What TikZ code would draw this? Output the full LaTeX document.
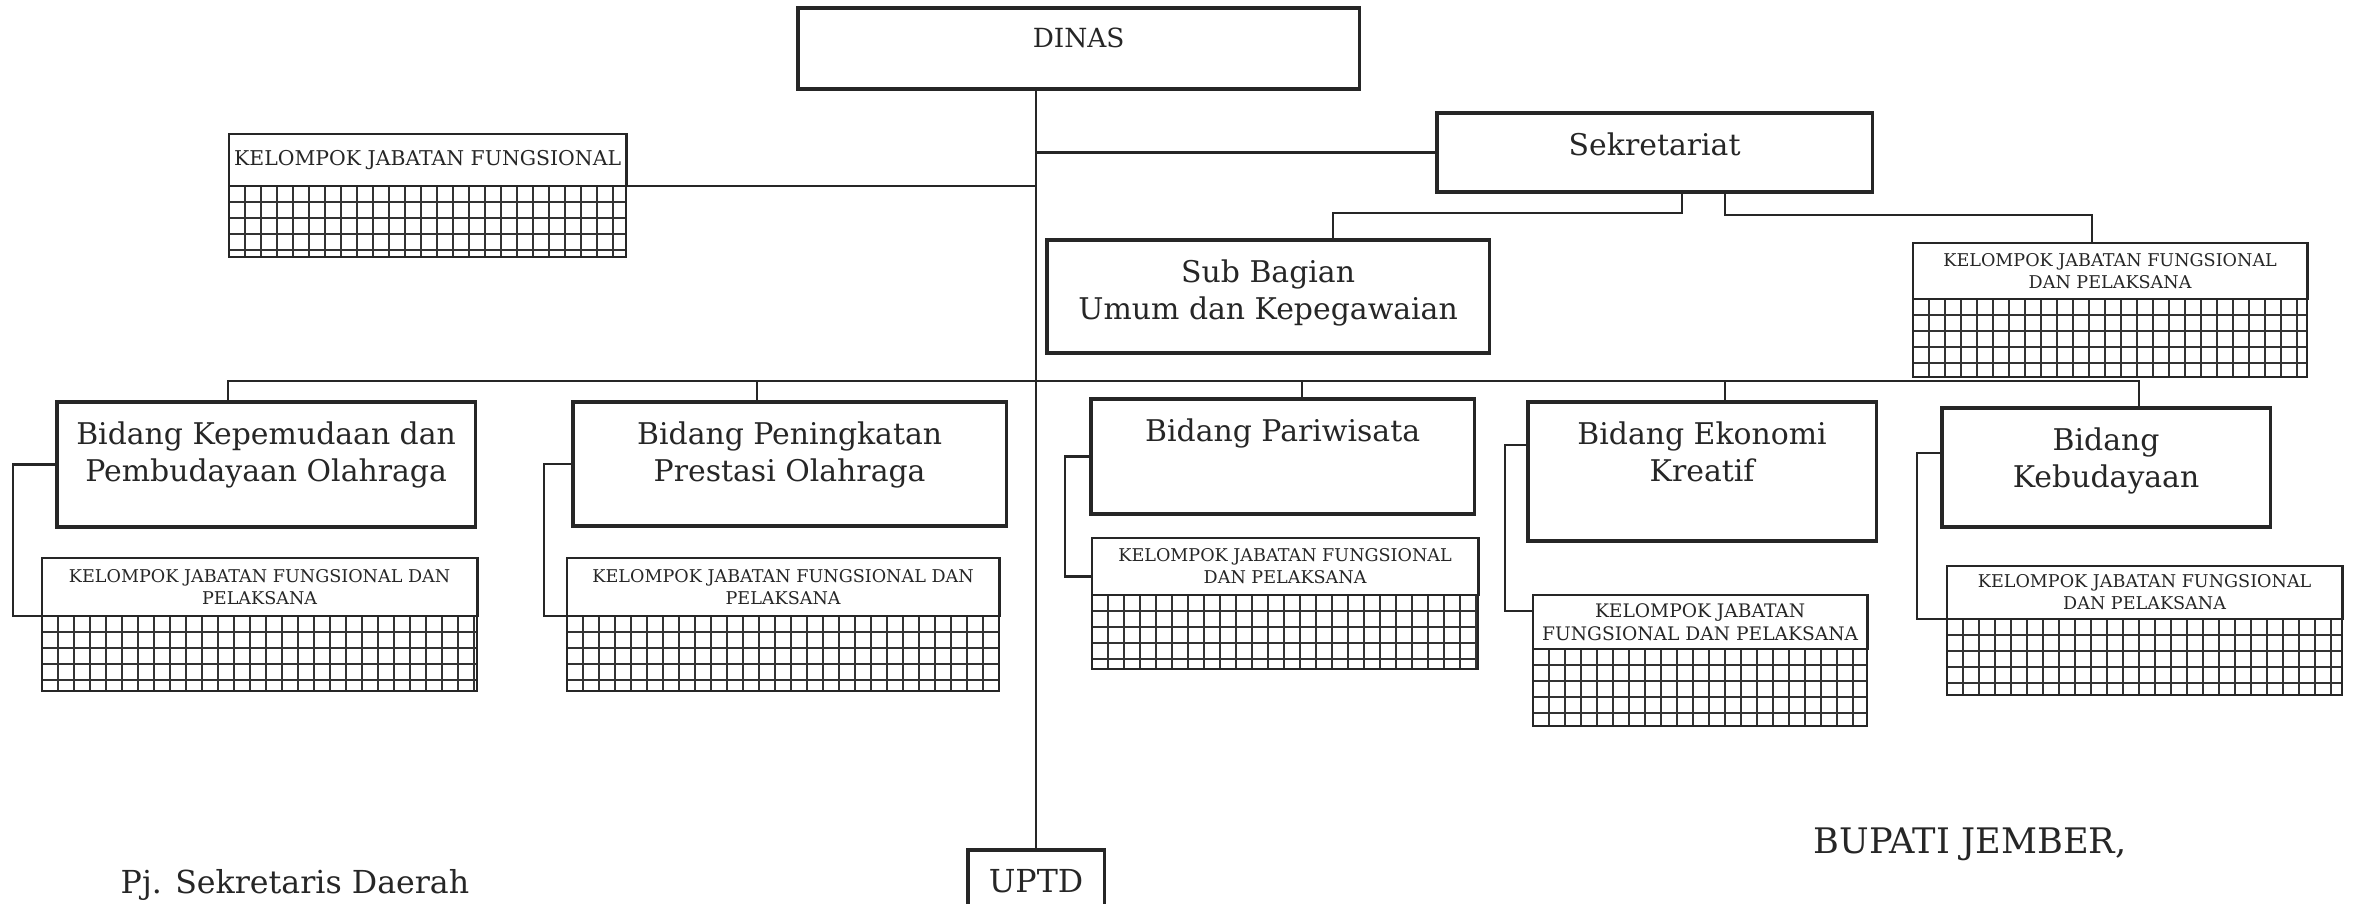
\documentclass[tikz,border=0pt]{standalone}
\usepackage{fontspec}
\setmainfont{DejaVu Serif}
\usetikzlibrary{positioning,calc}

\tikzset{
  orgbox/.style={draw=black!85, line width=0.9pt, anchor=north west, inner sep=0pt, outer sep=0pt},
  title/.style={anchor=north, yshift=-1.9mm, inner sep=0pt, align=center, font=\fontsize{8.5}{10.5}\selectfont, text=black!85},
  kjf/.style={draw=black!85, line width=0.8pt, anchor=north west, align=center, inner sep=1pt, outer sep=0pt, font=\fontsize{5}{6.3}\selectfont, text=black!85},
  kjfgrid/.style={draw=black!80, line width=0.7pt, xstep=1.6mm, ystep=1.6mm},
  link/.style={draw=black!85, line width=0.7pt},
  sign/.style={font=\fontsize{9}{11}\selectfont, text=black!85, inner sep=0pt}
}

\begin{document}
\begin{tikzpicture}[x=0.01cm,y=-0.01cm]
  \useasboundingbox (0,0) rectangle (2353,904);

  %kepala dan sekretariat
  \node[orgbox, minimum width=56.1mm, minimum height=8.1mm, label={[title, font=\fontsize{7.5}{9}\selectfont]north:DINAS}] (dinas) at (798,8) {};
  \node[orgbox, minimum width=43.5mm, minimum height=7.9mm, label={[title]north:Sekretariat}] (sekr) at (1437,113) {};
  \node[orgbox, minimum width=44.2mm, minimum height=11.3mm, label={[title]north:Sub Bagian\\Umum dan Kepegawaian}] (subbag) at (1047,240) {};
  \node[orgbox, minimum width=13.6mm, minimum height=10mm, label={[title, font=\fontsize{9}{11}\selectfont]north:UPTD}] (uptd) at (968,850) {};

  %bidang
  \node[orgbox, minimum width=41.8mm, minimum height=12.5mm, label={[title]north:Bidang Kepemudaan dan\\Pembudayaan Olahraga}] (bid1) at (57,402) {};
  \node[orgbox, minimum width=43.3mm, minimum height=12.4mm, label={[title]north:Bidang Peningkatan\\Prestasi Olahraga}] (bid2) at (573,402) {};
  \node[orgbox, minimum width=38.3mm, minimum height=11.5mm, label={[title]north:Bidang Pariwisata}] (par) at (1091,399) {};
  \node[orgbox, minimum width=34.8mm, minimum height=13.9mm, label={[title]north:Bidang Ekonomi\\Kreatif}] (eko) at (1528,402) {};
  \node[orgbox, minimum width=32.8mm, minimum height=11.9mm, label={[title]north:Bidang\\Kebudayaan}] (keb) at (1942,408) {};

  %kelompok jabatan fungsional
  \node[kjf, minimum width=39.7mm, minimum height=5.2mm, font=\fontsize{5.8}{7}\selectfont] (kjf0) at (229,134) {KELOMPOK JABATAN FUNGSIONAL};
  \node[kjf, minimum width=39.4mm, minimum height=5.6mm] (kjfs) at (1913,243) {KELOMPOK JABATAN FUNGSIONAL\\DAN PELAKSANA};
  \node[kjf, minimum width=43.5mm, minimum height=5.8mm] (kjf1) at (42,558) {KELOMPOK JABATAN FUNGSIONAL DAN\\PELAKSANA};
  \node[kjf, minimum width=43.2mm, minimum height=5.8mm] (kjf2) at (567,558) {KELOMPOK JABATAN FUNGSIONAL DAN\\PELAKSANA};
  \node[kjf, minimum width=38.6mm, minimum height=5.7mm] (kjfp) at (1092,538) {KELOMPOK JABATAN FUNGSIONAL\\DAN PELAKSANA};
  \node[kjf, minimum width=33.4mm, minimum height=5.4mm, font=\fontsize{5.3}{6.6}\selectfont] (kjfe) at (1533,595) {KELOMPOK JABATAN\\FUNGSIONAL DAN PELAKSANA};
  \node[kjf, minimum width=39.5mm, minimum height=5.3mm] (kjfk) at (1947,566) {KELOMPOK JABATAN FUNGSIONAL\\DAN PELAKSANA};

  \foreach \k/\w/\h in {kjf0/397/71, kjfs/394/78, kjf1/435/75, kjf2/432/75, kjfp/386/74, kjfe/334/77, kjfk/395/76}{
    \draw[kjfgrid, shift={(\k.south west)}] (0,0) grid (\w,\h);
    \draw[draw=black!85, line width=0.8pt] (\k.south west) rectangle ++(\w,\h);
  }

  %garis
  \draw[link] (dinas.south -| uptd.north) -- (uptd.north);
  \draw[link] (sekr.west) -- (sekr.west -| uptd.north);
  \draw[link] (kjf0.south east) -- (kjf0.south east -| uptd.north);
  \draw[link] ([xshift=2.75mm]sekr.south) -- ++(0,21) -| ([xshift=6.5mm]subbag.north);
  \draw[link] ([xshift=7.05mm]sekr.south) -- ++(0,23) -| ([xshift=-1.8mm]kjfs.north);

  \coordinate (bus) at (1035,381);
  \draw[link] ([xshift=-3.8mm]bid1.north) |- (bus) -| ([xshift=3.3mm]keb.north);
  \draw[link] ([xshift=-3.25mm]bid2.north) |- (bus);
  \draw[link] ([xshift=1.95mm]par.north) |- (bus);
  \draw[link] ([xshift=2.3mm]eko.north) |- (bus);

  \draw[link] (bid1.west) -- ++(-44,0) |- (kjf1.south west);
  \draw[link] (bid2.west) -- ++(-29,0) |- (kjf2.south west);
  \draw[link] (par.west) -- ++(-26,0) |- ([yshift=-1mm]kjfp.west);
  \draw[link] ([yshift=2.65mm]eko.west) -- ++(-23,0) |- ([yshift=1.1mm]kjfe.west);
  \draw[link] ([yshift=1.45mm]keb.west) -- ++(-25,0) |- (kjfk.south west);

  %tanda tangan
  \node[sign, font=\fontsize{10}{12}\selectfont] (bupati) at (1970,844) {BUPATI JEMBER,};
  \node[sign, anchor=base west] (pjsekda) at (120,894) {Pj. Sekretaris Daerah};
\end{tikzpicture}
\end{document}
